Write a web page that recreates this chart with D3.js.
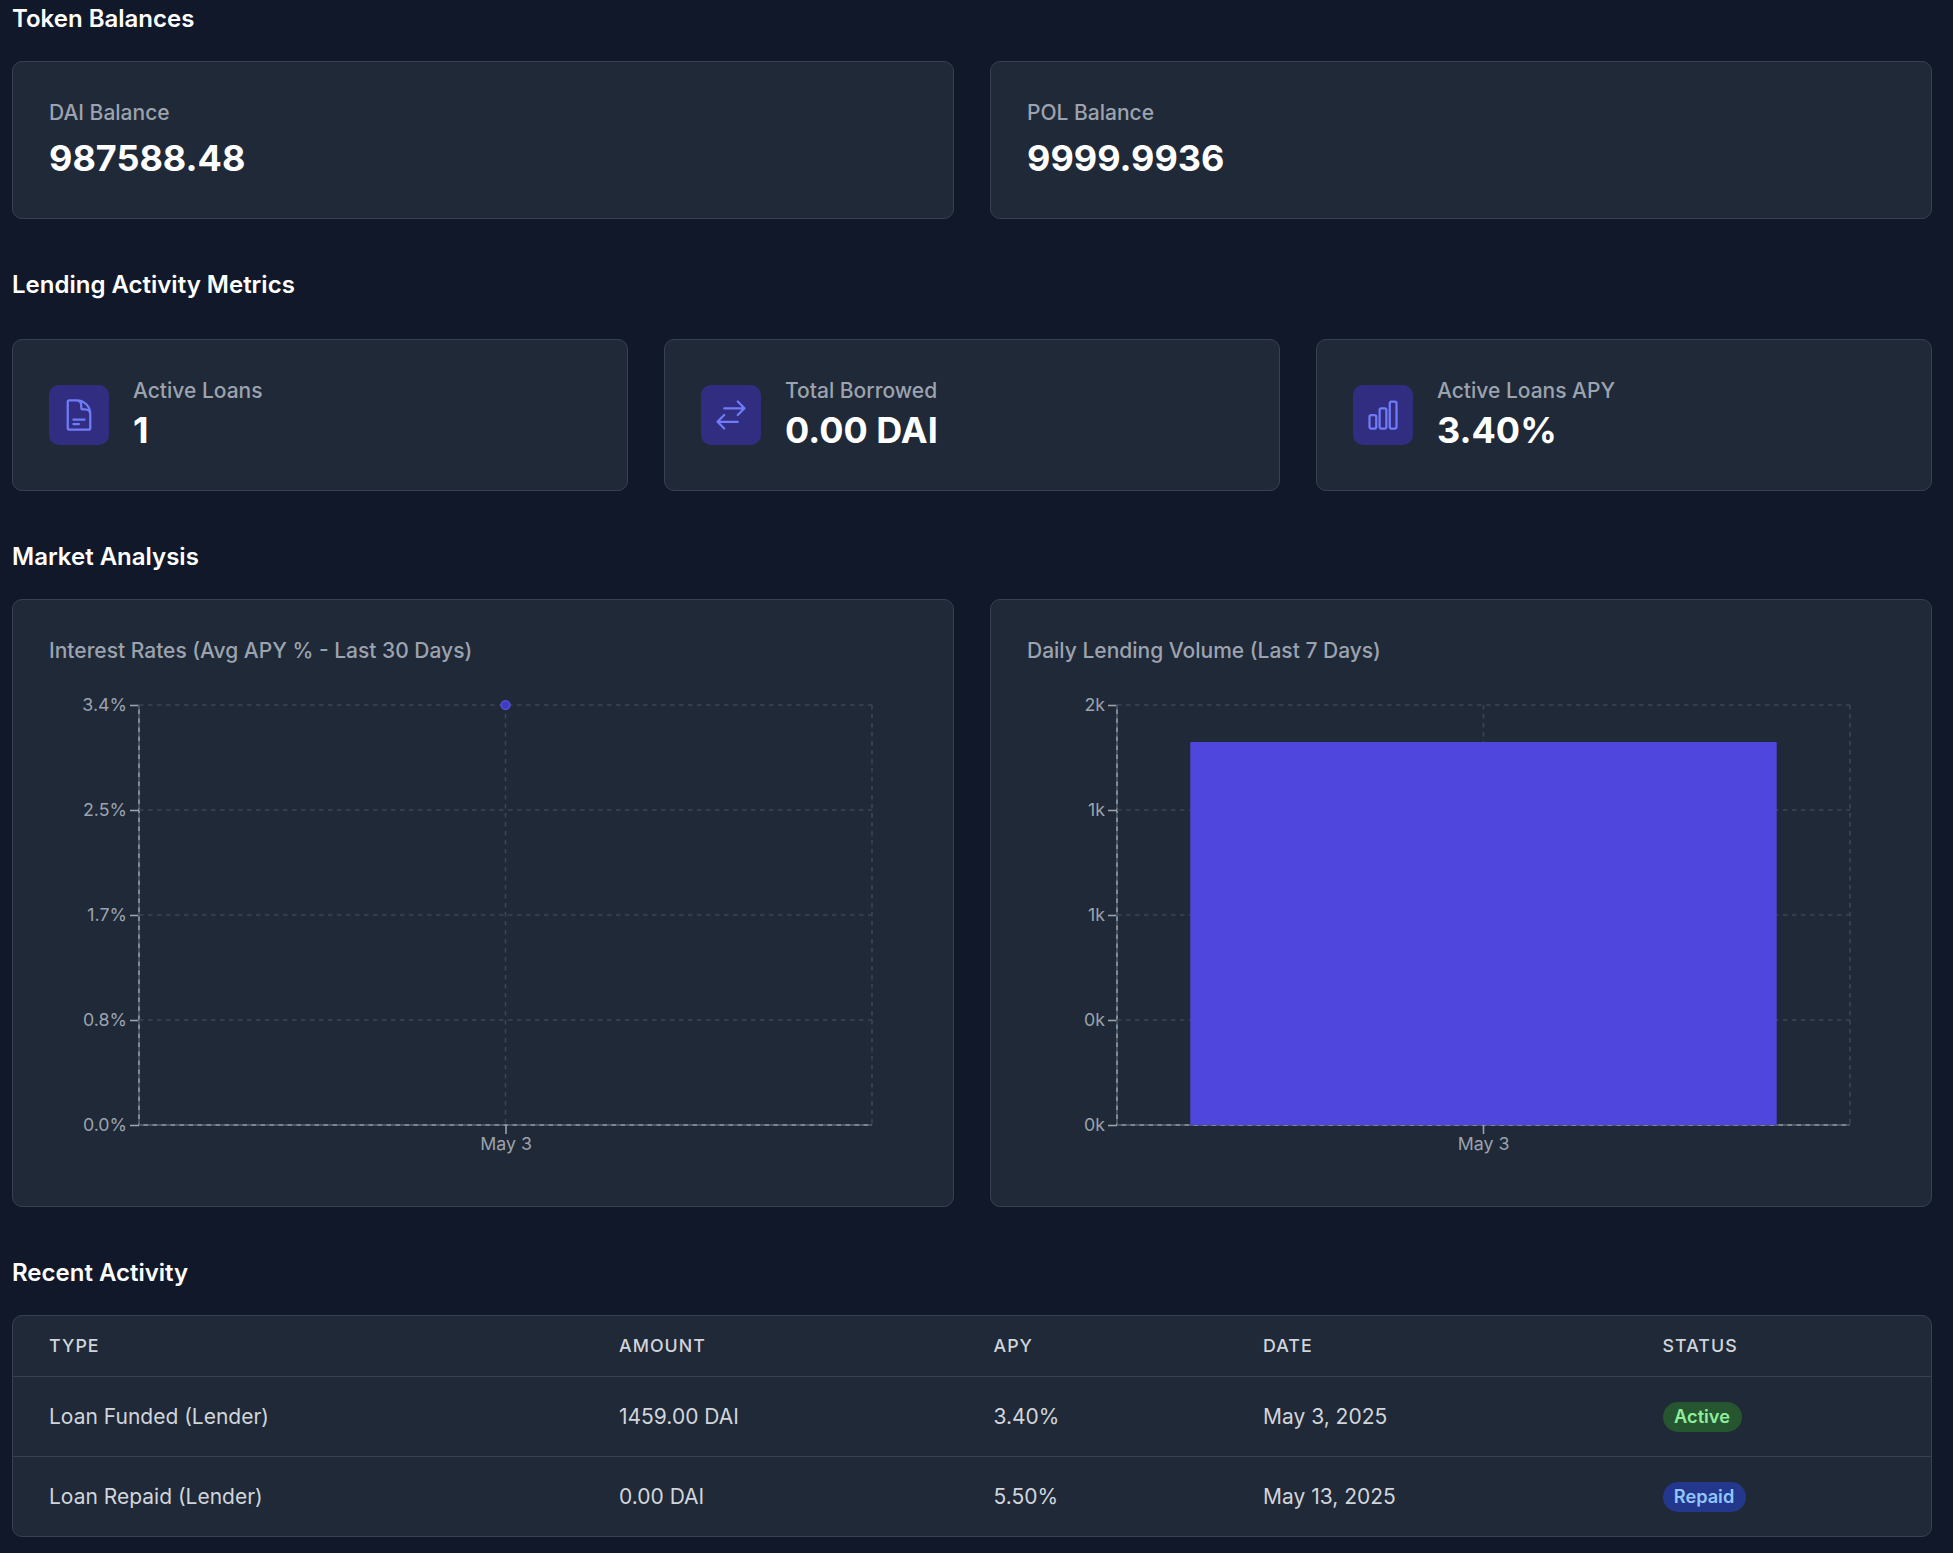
<!DOCTYPE html>
<html>
<head>
<meta charset="utf-8">
<script src="https://cdn.jsdelivr.net/npm/d3@7"></script>
<style>
  html, body { margin: 0; padding: 0; background: #111829; }
  body { width: 1953px; height: 1553px; position: relative; overflow: hidden;
         font-family: Inter, sans-serif; font-optical-sizing: none; color: #fff; }
  .abs { position: absolute; }
  .heading { left: 12px; font-size: 24px; font-weight: 600; line-height: 28px; white-space: nowrap; }
  .card { background: #1f2937; border: 1.25px solid #374151; border-radius: 10px; box-sizing: border-box; }
  .label { color: #9ca3af; font-size: 21px; font-weight: 500; line-height: 24px; white-space: nowrap; }
  .value { font-weight: 700; line-height: 44px; white-space: nowrap; }
  .iconbox { background: #312e81; border-radius: 10px; width: 60px; height: 60px; }
  .iconbox svg { position: absolute; left: 12px; top: 12px; width: 36px; height: 36px; fill: none;
                 stroke: #6f7bf7; stroke-width: 1.5; stroke-linecap: round; stroke-linejoin: round; }
  .tick text { font-family: Inter, sans-serif; font-size: 17.8px; fill: #9ca3af; }
  .th { color: #d1d5db; font-size: 17.8px; font-weight: 500; letter-spacing: 1.05px; line-height: 22px; }
  .td { color: #d1d5db; font-size: 21px; line-height: 24px; }
  .badge { border-radius: 15px; height: 30px; line-height: 29px; font-size: 18.2px; font-weight: 600;
           text-align: center; }
  .sep { height: 1.25px; background: #374151; }
</style>
</head>
<body>
<script>
// balances and metrics
const balanceLabels = ["DAI Balance", "POL Balance"];
const balanceValues = ["987588.48", "9999.9936"];
const metricLabels = ["Active Loans", "Total Borrowed", "Active Loans APY"];
const metricValues = ["1", "0.00 DAI", "3.40%"];

// heroicons outline paths
const metricIcons = [
  "M19.5 14.25v-2.625a3.375 3.375 0 00-3.375-3.375h-1.5A1.125 1.125 0 0113.5 7.125v-1.5a3.375 3.375 0 00-3.375-3.375H8.25m0 12.75h7.5m-7.5 3H12M10.5 2.25H5.625c-.621 0-1.125.504-1.125 1.125v17.25c0 .621.504 1.125 1.125 1.125h12.75c.621 0 1.125-.504 1.125-1.125V11.25a9 9 0 00-9-9z",
  "M7.5 21L3 16.5m0 0L7.5 12M3 16.5h13.5m0-13.5L21 7.5m0 0L16.5 12M21 7.5H7.5",
  "M3 13.125C3 12.504 3.504 12 4.125 12h2.25c.621 0 1.125.504 1.125 1.125v6.75C7.5 20.496 6.996 21 6.375 21h-2.25A1.125 1.125 0 013 19.875v-6.75zM9.75 8.625c0-.621.504-1.125 1.125-1.125h2.25c.621 0 1.125.504 1.125 1.125v11.25c0 .621-.504 1.125-1.125 1.125h-2.25a1.125 1.125 0 01-1.125-1.125V8.625zM16.5 4.125c0-.621.504-1.125 1.125-1.125h2.25C20.496 3 21 3.504 21 4.125v15.75c0 .621-.504 1.125-1.125 1.125h-2.25a1.125 1.125 0 01-1.125-1.125V4.125z"
];

// chart data
const rateDates = ["May 3"];
const rateValues = [3.4];
const rateTicks = [0, 0.85, 1.7, 2.55, 3.4];
const volumeDates = ["May 3"];
const volumeValues = [1459];
const volumeTicks = [0, 400, 800, 1200, 1600];

// table data
const tableColumns = ["TYPE", "AMOUNT", "APY", "DATE", "STATUS"];
const activityTypes = ["Loan Funded (Lender)", "Loan Repaid (Lender)"];
const activityAmounts = ["1459.00 DAI", "0.00 DAI"];
const activityApys = ["3.40%", "5.50%"];
const activityDates = ["May 3, 2025", "May 13, 2025"];
const activityStatuses = ["Active", "Repaid"];

const body = d3.select("body");

function place(sel, x, y, w, h) {
  sel.classed("abs", true).style("left", x + "px").style("top", y + "px");
  if (w) sel.style("width", w + "px");
  if (h) sel.style("height", h + "px");
  return sel;
}

function heading(text, y) {
  body.append("div").attr("class", "abs heading").style("top", y + "px").text(text);
}

heading("Token Balances", 5);
heading("Lending Activity Metrics", 271);
heading("Market Analysis", 543);
heading("Recent Activity", 1259);

// balance cards
balanceLabels.forEach((label, i) => {
  let card = place(body.append("div").attr("class", "card"), 12 + i * 978, 61, 942, 158);
  place(card.append("div").attr("class", "label").text(label), 36, 39);
  place(card.append("div").attr("class", "value").style("font-size", "36px").text(balanceValues[i]), 36, 74);
});

// metric cards
metricLabels.forEach((label, i) => {
  let card = place(body.append("div").attr("class", "card"), 12 + i * 652, 339, 616, 152);
  let box = place(card.append("div").attr("class", "iconbox"), 36, 45);
  box.append("svg").attr("viewBox", "0 0 24 24").append("path").attr("d", metricIcons[i]);
  place(card.append("div").attr("class", "label").text(label), 120, 39);
  place(card.append("div").attr("class", "value").style("font-size", "36px").text(metricValues[i]), 120, 68);
});

// chart cards
const plotTop = 705, plotBottom = 1125;
const gridColor = "#3b4554", axisColor = "#9ca3af";

function chartCard(x, title) {
  let card = place(body.append("div").attr("class", "card"), x, 599, 942, 608);
  place(card.append("div").attr("class", "label").text(title), 36, 39);
  return body.append("svg").attr("class", "abs").style("left", x + "px").style("top", "599px")
    .attr("width", 942).attr("height", 608)
    .append("g").attr("transform", `translate(${-x},-599)`);
}

function drawFrame(g, x, y, xTicks, yTicks, yFormat) {
  let [x0, x1] = x.range();
  // axes first, the dashed grid goes on top of them
  let yAxis = g.append("g").attr("class", "tick").attr("transform", `translate(${x0},0)`)
    .call(d3.axisLeft(y).tickValues(yTicks).tickFormat(yFormat).tickSize(9).tickPadding(3));
  let xAxis = g.append("g").attr("class", "tick").attr("transform", `translate(0,${plotBottom})`)
    .call(d3.axisBottom(x).tickSize(9).tickPadding(3));
  yAxis.selectAll("path,line").attr("stroke", axisColor).attr("stroke-width", 1.6);
  xAxis.selectAll("path,line").attr("stroke", axisColor).attr("stroke-width", 1.6);
  yAxis.selectAll(".domain").attr("d", `M0,${y.range()[0]}V${y.range()[1]}`);
  xAxis.selectAll(".domain").attr("d", `M${x0},0H${x1}`);
  g.selectAll(".tick text").attr("fill", "#9ca3af").attr("font-size", null).attr("font-family", null);

  let grid = g.append("g").attr("stroke", gridColor).attr("stroke-width", 1.6)
    .attr("stroke-dasharray", "4.5 4.5");
  grid.selectAll(".h").data(yTicks).join("line")
    .attr("x1", x0).attr("x2", x1).attr("y1", d => y(d)).attr("y2", d => y(d));
  grid.selectAll(".v").data([x0, ...xTicks, x1]).join("line")
    .attr("x1", d => d).attr("x2", d => d).attr("y1", plotTop).attr("y2", plotBottom);
}

// interest rates
{
  let g = chartCard(12, "Interest Rates (Avg APY % - Last 30 Days)");
  let x = d3.scalePoint().domain(rateDates).range([139, 872]).padding(0.5);
  let y = d3.scaleLinear().domain([0, 3.4]).range([plotBottom, plotTop]);
  drawFrame(g, x, y, rateDates.map(d => x(d)), rateTicks, d => d.toFixed(1) + "%");
  g.selectAll("circle").data(rateValues).join("circle")
    .attr("cx", (d, i) => x(rateDates[i])).attr("cy", d => y(d))
    .attr("r", 4.5).attr("fill", "#3f3cc4").attr("stroke", "#5a52e8").attr("stroke-width", 1.25);
}

// lending volume
{
  let g = chartCard(990, "Daily Lending Volume (Last 7 Days)");
  let x = d3.scaleBand().domain(volumeDates).range([1117, 1850]).paddingInner(0.2).paddingOuter(0.1);
  let y = d3.scaleLinear().domain([0, 1600]).range([plotBottom, plotTop]);
  drawFrame(g, x, y, volumeDates.map(d => x(d) + x.bandwidth() / 2), volumeTicks, d => (d / 1000).toFixed(0) + "k");
  g.selectAll("rect").data(volumeValues).join("rect")
    .attr("x", (d, i) => x(volumeDates[i])).attr("width", x.bandwidth())
    .attr("y", d => y(d)).attr("height", d => plotBottom - y(d))
    .attr("fill", "#4f46de");
}

// activity table
const tableCard = place(body.append("div").attr("class", "card"), 12, 1315, 1920, 222);
const columnX = [36, 606, 980.5, 1250, 1649.5];
place(tableCard.append("div").attr("class", "sep"), 0, 60, 1918);
place(tableCard.append("div").attr("class", "sep"), 0, 140, 1918);

tableColumns.forEach((name, i) => {
  place(tableCard.append("div").attr("class", "th").text(name), columnX[i], 19);
});

const badgeColors = { Active: ["#26562f", "#8fee9c", 79], Repaid: ["#23388c", "#93c5fd", 83] };
activityTypes.forEach((type, r) => {
  let top = 89 + r * 80;
  [type, activityAmounts[r], activityApys[r], activityDates[r]].forEach((val, i) => {
    place(tableCard.append("div").attr("class", "td").text(val), columnX[i], top);
  });
  let status = activityStatuses[r];
  place(tableCard.append("div").attr("class", "badge").text(status), columnX[4], top - 3, badgeColors[status][2])
    .style("background", badgeColors[status][0]).style("color", badgeColors[status][1]);
});
</script>
</body>
</html>
